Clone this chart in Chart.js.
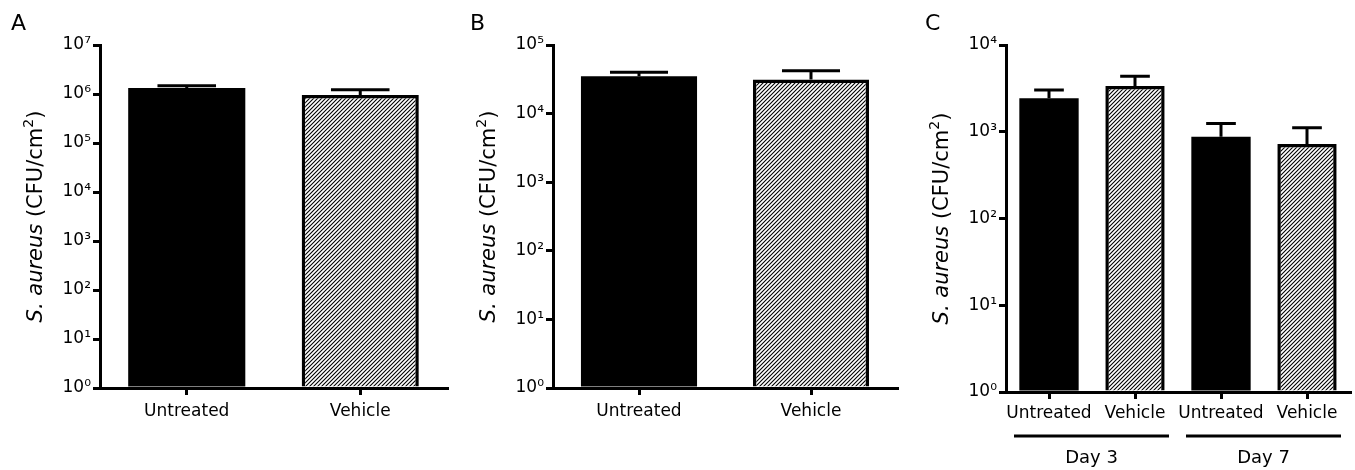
<!DOCTYPE html>
<html>
<head>
<meta charset="utf-8">
<script src="https://cdn.jsdelivr.net/npm/chart.js@4.4.0/dist/chart.umd.min.js"></script>
<style>
  body { margin: 0; background: #fff; }
  .panel { position: absolute; top: 0; }
</style>
</head>
<body>
<canvas id="chartA" class="panel" style="left:0" width="450" height="470"></canvas>
<canvas id="chartB" class="panel" style="left:450px" width="450" height="470"></canvas>
<canvas id="chartC" class="panel" style="left:900px" width="455" height="470"></canvas>
<script>
// panel A
const labelsA = ['Untreated', 'Vehicle'];
const meansA = [1.33e6, 0.95e6];
const semA = [0.15e6, 0.27e6];
const ticksA = [1e0, 1e1, 1e2, 1e3, 1e4, 1e5, 1e6, 1e7];

// panel B
const labelsB = ['Untreated', 'Vehicle'];
const meansB = [3.5e4, 3.15e4];
const semB = [0.5e4, 1.05e4];
const ticksB = [1e0, 1e1, 1e2, 1e3, 1e4, 1e5];

// panel C
const labelsC = ['Untreated', 'Vehicle', 'Untreated', 'Vehicle'];
const meansC = [2430, 3370, 877, 722];
const semC = [600, 980, 370, 390];
const ticksC = [1e0, 1e1, 1e2, 1e3, 1e4];
const daysC = ['Day 3', 'Day 7'];

const FONT = "'DejaVu Sans', Verdana, sans-serif";
const SUP = ['⁰', '¹', '²', '³', '⁴', '⁵', '⁶', '⁷', '⁸', '⁹'];

function hatch() {
  const c = document.createElement('canvas');
  c.width = 4; c.height = 4;
  const g = c.getContext('2d');
  g.fillStyle = '#fff';
  g.fillRect(0, 0, 4, 4);
  g.strokeStyle = '#000';
  g.lineWidth = 1.1;
  g.beginPath();
  g.moveTo(-1, 5); g.lineTo(5, -1);
  g.moveTo(-1, 1); g.lineTo(1, -1);
  g.moveTo(3, 5); g.lineTo(5, 3);
  g.stroke();
  return g.createPattern(c, 'repeat');
}
const hatchFill = hatch();

const decor = {
  id: 'decor',
  afterDraw(chart, args, o) {
    const ctx = chart.ctx, area = chart.chartArea;
    const x = chart.scales.x, y = chart.scales.y;
    const meta = chart.getDatasetMeta(0);
    ctx.save();
    // error bars (upper only)
    ctx.strokeStyle = '#000';
    ctx.lineWidth = 3;
    meta.data.forEach((bar, i) => {
      const top = y.getPixelForValue(o.means[i]);
      const hi = y.getPixelForValue(o.means[i] + o.sem[i]);
      const half = bar.width / 4;
      ctx.beginPath();
      ctx.moveTo(bar.x, top);
      ctx.lineTo(bar.x, hi);
      ctx.moveTo(bar.x - half, hi);
      ctx.lineTo(bar.x + half, hi);
      ctx.stroke();
    });
    // panel letter
    ctx.fillStyle = '#000';
    ctx.font = '22px ' + FONT;
    ctx.textAlign = 'left';
    ctx.textBaseline = 'alphabetic';
    ctx.fillText(o.letter, o.letterX, 30);
    // y title with italic species name
    const parts = [
      { t: 'S. aureus', f: 'italic 21px ' + FONT, dy: 0 },
      { t: ' (CFU/cm', f: '21px ' + FONT, dy: 0 },
      { t: '2', f: '14px ' + FONT, dy: -9 },
      { t: ')', f: '21px ' + FONT, dy: 0 }
    ];
    let total = 0;
    parts.forEach(p => { ctx.font = p.f; p.w = ctx.measureText(p.t).width; total += p.w; });
    ctx.translate(area.left - 58, (area.top + area.bottom) / 2);
    ctx.rotate(-Math.PI / 2);
    let cx = -total / 2;
    parts.forEach(p => { ctx.font = p.f; ctx.fillText(p.t, cx, p.dy); cx += p.w; });
    ctx.restore();
    // group lines under the categories
    if (o.groups) {
      ctx.save();
      const cw = x.getPixelForValue(1) - x.getPixelForValue(0);
      ctx.strokeStyle = '#000';
      ctx.lineWidth = 3;
      ctx.fillStyle = '#000';
      ctx.font = '18px ' + FONT;
      ctx.textAlign = 'center';
      ctx.textBaseline = 'middle';
      o.groups.forEach((g, k) => {
        const l = x.getPixelForValue(2 * k) - cw / 2 + 8;
        const r = x.getPixelForValue(2 * k + 1) + cw / 2 - 9;
        ctx.beginPath();
        ctx.moveTo(l, area.bottom + 44);
        ctx.lineTo(r, area.bottom + 44);
        ctx.stroke();
        ctx.fillText(g, (l + r) / 2, area.bottom + 66);
      });
      ctx.restore();
    }
  }
};

function makeChart(id, labels, means, sem, ticks, yW, padR, xH, xPad, letter, letterX, groups, barPct) {
  return new Chart(document.getElementById(id), {
    type: 'bar',
    data: {
      labels: labels,
      datasets: [{
        data: means,
        base: 1,
        backgroundColor: labels.map((l, i) => i % 2 ? hatchFill : '#000'),
        borderColor: '#000',
        borderWidth: labels.map((l, i) => i % 2 ? 3.5 : 0),
        inflateAmount: 0,
        categoryPercentage: 1,
        barPercentage: barPct
      }]
    },
    options: {
      responsive: false,
      animation: false,
      layout: { padding: { top: 45, right: padR, bottom: 0, left: 0 } },
      plugins: {
        legend: { display: false },
        tooltip: { enabled: false },
        decor: { means: means, sem: sem, letter: letter, letterX: letterX, groups: groups }
      },
      scales: {
        x: {
          offset: true,
          grid: { drawOnChartArea: false, offset: false, tickLength: 7, lineWidth: 3, color: '#000' },
          border: { width: 3, color: '#000', z: 1 },
          ticks: { color: '#000', font: { family: FONT, size: 17 }, padding: xPad, maxRotation: 0, autoSkip: false },
          afterFit: s => { s.height = xH; }
        },
        y: {
          type: 'logarithmic',
          min: ticks[0],
          max: ticks[ticks.length - 1],
          afterBuildTicks: s => { s.ticks = ticks.map(v => ({ value: v })); },
          grid: { drawOnChartArea: false, tickLength: 7, lineWidth: 3, color: '#000' },
          border: { width: 3, color: '#000' },
          ticks: {
            color: '#000',
            font: { family: FONT, size: 17 },
            padding: 2,
            callback: v => '10' + SUP[Math.round(Math.log10(v))]
          },
          afterFit: s => { s.width = yW; }
        }
      }
    },
    plugins: [decor]
  });
}

makeChart('chartA', labelsA, meansA, semA, ticksA, 100, 3, 82, 6, 'A', 11, null, 0.675);
makeChart('chartB', labelsB, meansB, semB, ticksB, 103, 3, 82, 6, 'B', 20, null, 0.675);
makeChart('chartC', labelsC, meansC, semC, ticksC, 106, 5, 78, 4, 'C', 25, daysC, 0.69);
</script>
</body>
</html>
